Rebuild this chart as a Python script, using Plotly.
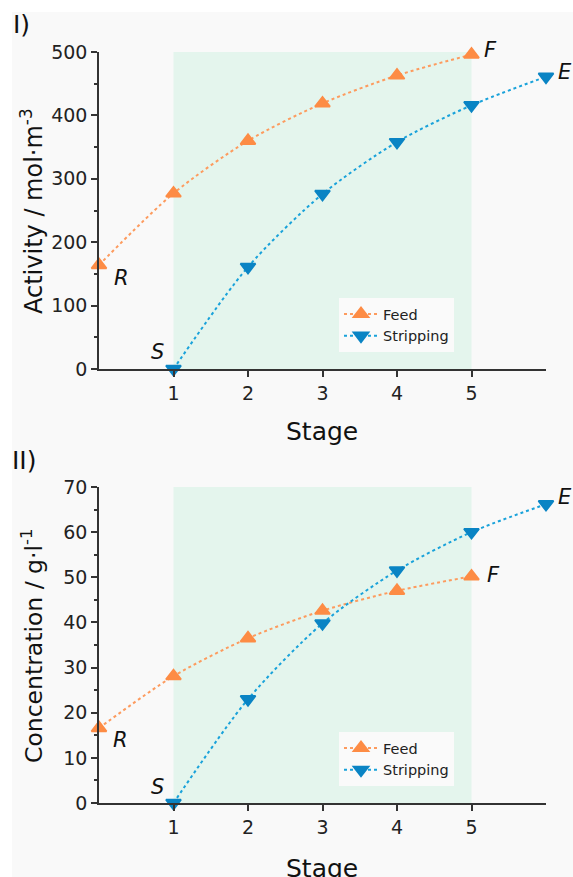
import plotly.graph_objects as go

W, H = 573, 877

stages_feed = [0, 1, 2, 3, 4, 5]
stages_strip = [1, 2, 3, 4, 5, 6]
activity_feed = [164, 277, 360, 419, 463, 496]
activity_strip = [0, 161, 276, 358, 416, 461]
conc_feed = [16.6, 28.1, 36.5, 42.6, 47.0, 50.2]
conc_strip = [0, 23.0, 39.8, 51.5, 60.0, 66.2]

x_ticks = [1, 2, 3, 4, 5]
shade_range = [1, 5]

FEED_M = "#fd8c45"
FEED_L = "#fd9b5e"
STRIP_M = "#0a84c4"
STRIP_L = "#19a2da"
FONT = "DejaVu Sans, Liberation Sans, Arial, sans-serif"


def px(x):
    return x / W


def py(y):
    return 1 - y / H


fig = go.Figure()

panels = [
    dict(xa="x", ya="y", feed=activity_feed, strip=activity_strip, legend="legend",
         ymax=500, dtick=100, minor=50),
    dict(xa="x2", ya="y2", feed=conc_feed, strip=conc_strip, legend="legend2",
         ymax=70, dtick=10, minor=5),
]

for p in panels:
    fig.add_trace(go.Scatter(
        x=stages_feed, y=p["feed"], name="Feed", xaxis=p["xa"], yaxis=p["ya"],
        mode="lines+markers", legend=p["legend"], cliponaxis=False,
        line=dict(color=FEED_L, width=2, dash="dot", shape="spline", smoothing=0.8),
        marker=dict(symbol="triangle-up", size=13, color=FEED_M, line=dict(color=FEED_M, width=1.8)),
    ))
    fig.add_trace(go.Scatter(
        x=stages_strip, y=p["strip"], name="Stripping", xaxis=p["xa"], yaxis=p["ya"],
        mode="lines+markers", legend=p["legend"], cliponaxis=False,
        line=dict(color=STRIP_L, width=2, dash="dot", shape="spline", smoothing=0.8),
        marker=dict(symbol="triangle-down", size=13, color=STRIP_M, line=dict(color=STRIP_M, width=1.8)),
    ))

axis_common = dict(
    showline=True, linecolor="#333333", linewidth=1.5, showgrid=False, zeroline=False,
    ticks="outside", ticklen=6, tickwidth=1.5, tickcolor="#333333", automargin=False,
    tickfont=dict(size=19, color="#222222", family=FONT),
)

shapes = [
    dict(type="rect", xref="paper", yref="paper", x0=px(12), x1=1.0, y0=0, y1=py(12),
         fillcolor="#f9f9f9", line=dict(width=0), layer="below"),
]

for i, p in enumerate(panels):
    sfx = "" if i == 0 else "2"
    fig.layout["xaxis" + sfx] = dict(
        axis_common, range=[0, 6], tickvals=x_ticks, anchor="y" + sfx,
        domain=[px(99), px(546)],
    )
    fig.layout["yaxis" + sfx] = dict(
        axis_common, range=[0, p["ymax"]], dtick=p["dtick"], anchor="x" + sfx,
        minor=dict(dtick=p["minor"], ticks="outside", ticklen=3, tickwidth=1.5, tickcolor="#333333"),
        domain=[py(369), py(52)] if i == 0 else [py(803), py(487)],
    )
    shapes.append(dict(type="rect", xref="x" + sfx, yref="y" + sfx,
                       x0=shade_range[0], x1=shade_range[1], y0=0, y1=p["ymax"],
                       fillcolor="#e4f5ed", line=dict(width=0), layer="below"))

annotations = []

def lab(text, xref, yref, x, y, xs, ys):
    annotations.append(dict(text="<i>%s</i>" % text, xref=xref, yref=yref, x=x, y=y,
                            xshift=xs, yshift=ys, showarrow=False,
                            font=dict(size=21, color="#111111", family=FONT)))

lab("R", "x", "y", stages_feed[0], activity_feed[0], 22, -13)
lab("S", "x", "y", stages_strip[0], activity_strip[0], -16, 17)
lab("F", "x", "y", stages_feed[-1], activity_feed[-1], 19, 5)
lab("E", "x", "y", stages_strip[-1], activity_strip[-1], 19, 5)
lab("R", "x2", "y2", stages_feed[0], conc_feed[0], 21, -12)
lab("S", "x2", "y2", stages_strip[0], conc_strip[0], -16, 16)
lab("F", "x2", "y2", stages_feed[-1], conc_feed[-1], 22, 1)
lab("E", "x2", "y2", stages_strip[-1], conc_strip[-1], 19, 7)

def txt(text, x, y, size, angle=0):
    annotations.append(dict(text=text, xref="paper", yref="paper", x=px(x), y=py(y),
                            xanchor="center", yanchor="middle", showarrow=False, textangle=angle,
                            font=dict(size=size, color="#111111", family=FONT)))

txt("I)", 21, 25, 25)
txt("II)", 24, 460, 25)
txt("Activity / mol·m<sup>-3</sup>", 32, 211, 24, -90)
txt("Concentration / g·l<sup>-1</sup>", 32, 646, 23.5, -90)
txt("Stage", 322, 431, 25)
txt("Stage", 322, 868, 25)

legend_common = dict(
    xanchor="left", yanchor="top", bgcolor="#fafafa", borderwidth=0,
    font=dict(size=14.5, color="#222222", family=FONT), itemwidth=34,
    tracegroupgap=0,
)

fig.update_layout(
    width=W, height=H, margin=dict(l=0, r=0, t=0, b=0, pad=0),
    paper_bgcolor="white", plot_bgcolor="rgba(0,0,0,0)",
    font=dict(family=FONT),
    shapes=shapes, annotations=annotations,
    legend=dict(legend_common, x=px(339), y=py(298)),
    legend2=dict(legend_common, x=px(339), y=py(732)),
)

fig.write_html("out.html")
